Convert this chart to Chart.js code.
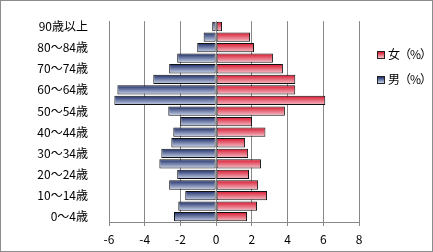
<!DOCTYPE html>
<html>
<head>
<meta charset="utf-8">
<script src="https://cdn.jsdelivr.net/npm/chart.js@4/dist/chart.umd.min.js"></script>
<style>
  body { margin: 0; background: #fff; }
  #wrap { position: relative; width: 433px; height: 252px; box-sizing: border-box; border: 1px solid #8c8c8c; }
  #wrap canvas { position: absolute; left: 0; top: 0; }
  .leg { position: absolute; left: 376px; font: 12px "Noto Sans CJK JP", sans-serif; color: #000; line-height: 14px; white-space: nowrap; letter-spacing: -1px; }
  .leg i { display: inline-block; width: 6px; height: 6px; border: 1px solid #222; margin-right: 3px; vertical-align: 0px; }
</style>
</head>
<body>
<div id="wrap">
  <canvas id="pyramid"></canvas>
  <div class="leg" style="top:46px"><i style="background:linear-gradient(#d8142c,#f4c4cc)"></i>女（%）</div>
  <div class="leg" style="top:71px"><i style="background:linear-gradient(#1c2e6c,#ccd6ec)"></i>男（%）</div>
</div>
<script>
// 年齢階級（下から上）
const ageGroups = ['0～4歳', '5～9歳', '10～14歳', '15～19歳', '20～24歳', '25～29歳', '30～34歳',
  '35～39歳', '40～44歳', '45～49歳', '50～54歳', '55～59歳', '60～64歳', '65～69歳',
  '70～74歳', '75～79歳', '80～84歳', '85～89歳', '90歳以上'];

// 男（%）は左側に負の値で描く
const maleValues = [-2.36, -2.12, -1.73, -2.63, -2.18, -3.18, -3.07, -2.51, -2.40, -2.01,
  -2.68, -5.70, -5.53, -3.52, -2.63, -2.18, -1.06, -0.70, -0.22];
const femaleValues = [1.73, 2.29, 2.85, 2.35, 1.84, 2.51, 1.79, 1.62, 2.76, 2.01,
  3.85, 6.11, 4.43, 4.43, 3.74, 3.18, 2.12, 1.90, 0.33];

const xTicks = [-6, -4, -2, 0, 2, 4, 6, 8];
const barPct = 0.88;

// 棒ごとの縦グラデーション
function barGradient(c, topColor, bottomColor) {
  const chart = c.chart;
  const y = chart.scales.y;
  if (!y || c.type !== 'data') return topColor;
  const mid = y.getPixelForValue(c.dataIndex);
  const h = (y.height / ageGroups.length) * barPct;
  if (!isFinite(mid) || !isFinite(h) || h <= 0) return topColor;
  const g = chart.ctx.createLinearGradient(0, mid - h / 2, 0, mid + h / 2);
  g.addColorStop(0, topColor);
  g.addColorStop(1, bottomColor);
  return g;
}

const fontJP = { family: '"Noto Sans CJK JP", sans-serif', size: 12 };

new Chart(document.getElementById('pyramid'), {
  type: 'bar',
  data: {
    labels: ageGroups,
    datasets: [{
      label: '男（%）',
      data: maleValues,
      backgroundColor: c => barGradient(c, '#1a2a66', '#ccd6ec'),
      borderColor: '#111',
      borderWidth: 1,
      borderSkipped: false
    }, {
      label: '女（%）',
      data: femaleValues,
      backgroundColor: c => barGradient(c, '#d8142c', '#f4c4cc'),
      borderColor: '#111',
      borderWidth: 1,
      borderSkipped: false
    }]
  },
  options: {
    indexAxis: 'y',
    responsive: true,
    maintainAspectRatio: false,
    animation: false,
    datasets: { bar: { barPercentage: barPct, categoryPercentage: 1 } },
    layout: { padding: { left: 0, right: 73, top: 15, bottom: 0 } },
    plugins: { legend: { display: false }, tooltip: { enabled: false } },
    scales: {
      x: {
        stacked: true,
        min: -6,
        max: 8,
        afterBuildTicks: s => { s.ticks = xTicks.map(v => ({ value: v })); },
        afterFit: s => { s.height = 29; },
        grid: { color: '#888', tickLength: 4, drawTicks: true },
        border: { color: '#888' },
        ticks: { color: '#000', font: fontJP, padding: 6, autoSkip: false, maxRotation: 0 }
      },
      y: {
        stacked: true,
        reverse: true,
        afterFit: s => { s.width = 108; },
        grid: { display: false },
        border: { display: true, color: '#888' },
        ticks: {
          color: '#000',
          font: fontJP,
          padding: 13,
          autoSkip: false,
          callback: function (v, i) { return i % 2 === 0 ? this.getLabelForValue(v) : ''; }
        }
      }
    }
  }
});
</script>
</body>
</html>
